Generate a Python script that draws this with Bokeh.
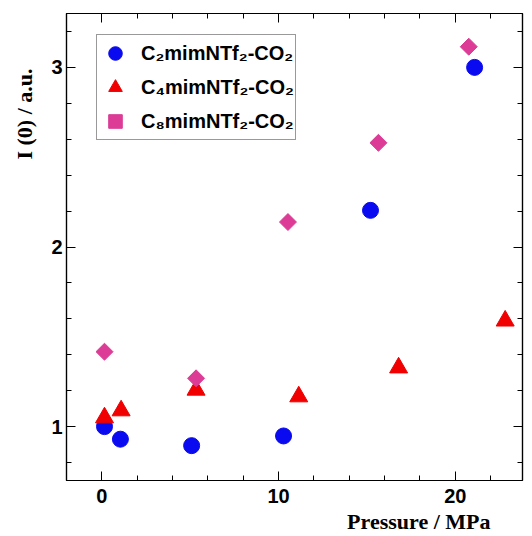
import math
from bokeh.plotting import figure
from bokeh.models import (Range1d, LinearAxis, SingleIntervalTicker, Legend, LegendItem, Title)
from bokeh.embed import file_html
from bokeh.resources import INLINE

# ---- data ----
c2_p = [0.15, 1.05, 5.08, 10.28, 15.2, 21.09]
c2_i = [1.0, 0.93, 0.894, 0.948, 2.204, 3.0]
c4_p = [0.15, 1.09, 5.33, 11.14, 16.79, 22.82]
c4_i = [1.05, 1.089, 1.204, 1.167, 1.328, 1.589]
c8_p = [0.15, 5.33, 10.53, 15.65, 20.76]
c8_i = [1.417, 1.269, 2.139, 2.58, 3.115]
labels = ["C\u2082mimNTf\u2082-CO\u2082", "C\u2084mimNTf\u2082-CO\u2082", "C\u2088mimNTf\u2082-CO\u2082"]
x_title = "Pressure / MPa"
y_title = "I (0) / a.u."
x_ticks_interval = 10
y_ticks_interval = 1

p = figure(width=530, height=536, output_backend="svg", toolbar_location=None,
           x_range=Range1d(-2, 23.8), y_range=Range1d(0.7, 3.3),
           min_border_left=66, min_border_right=8, min_border_top=13, min_border_bottom=56)
p.grid.visible = False
p.outline_line_color = "black"
p.outline_line_width = 1.2
p.background_fill_color = "white"

xt = SingleIntervalTicker(interval=x_ticks_interval, num_minor_ticks=5)
yt = SingleIntervalTicker(interval=y_ticks_interval, num_minor_ticks=5)

def style(ax, show_labels=True):
    ax.axis_line_color = "black"
    ax.axis_line_width = 1.2
    ax.major_tick_in = 9
    ax.major_tick_out = 0
    ax.minor_tick_in = 5
    ax.minor_tick_out = 0
    ax.major_tick_line_color = "black"
    ax.minor_tick_line_color = "black"
    ax.major_label_text_font = "Liberation Sans"
    ax.major_label_text_font_style = "bold"
    if show_labels:
        ax.major_label_text_font_size = "20px"
        ax.major_label_text_color = "black"
    else:
        ax.major_label_text_font_size = "1px"
        ax.major_label_text_color = None
        ax.major_label_standoff = 0

p.xaxis.ticker = xt
p.yaxis.ticker = yt
style(p.xaxis[0])
style(p.yaxis[0])
p.xaxis.major_label_standoff = 8
p.yaxis.major_label_standoff = 4

top = LinearAxis(ticker=xt)
style(top, False)
p.add_layout(top, "above")
right = LinearAxis(ticker=yt)
style(right, False)
p.add_layout(right, "right")

r2 = p.scatter(c2_p, c2_i, marker="circle", size=16, fill_color="#0a0af0", line_color="#0a0af0")
r4 = p.scatter(c4_p, c4_i, marker="triangle", size=18, fill_color="#f00000", line_color="#f00000")
r8 = p.scatter(c8_p, c8_i, marker="square", size=12, angle=math.pi / 4,
               fill_color="#dc3c96", line_color="#dc3c96")

legend = Legend(items=[LegendItem(label=labels[0], renderers=[r2]),
                       LegendItem(label=labels[1], renderers=[r4]),
                       LegendItem(label=labels[2], renderers=[r8])],
                location=(30, 340), padding=1, spacing=0, label_height=34,
                glyph_width=34, glyph_height=34, label_standoff=9,
                label_text_font="Liberation Sans", label_text_font_style="bold",
                label_text_font_size="20px", label_text_color="black",
                border_line_color="#333333", border_line_width=1.2,
                background_fill_alpha=1)
p.add_layout(legend, "center")

xl = Title(text=x_title, align="right", offset=32, standoff=2,
           text_font="Liberation Serif", text_font_style="bold", text_font_size="22px",
           text_color="black")
p.add_layout(xl, "below")
yl = Title(text=y_title, align="right", offset=55, standoff=20, vertical_align="top",
           text_font="Liberation Serif", text_font_style="bold", text_font_size="22px",
           text_color="black")
p.add_layout(yl, "left")

open("out.html", "w").write(file_html(p, INLINE))
